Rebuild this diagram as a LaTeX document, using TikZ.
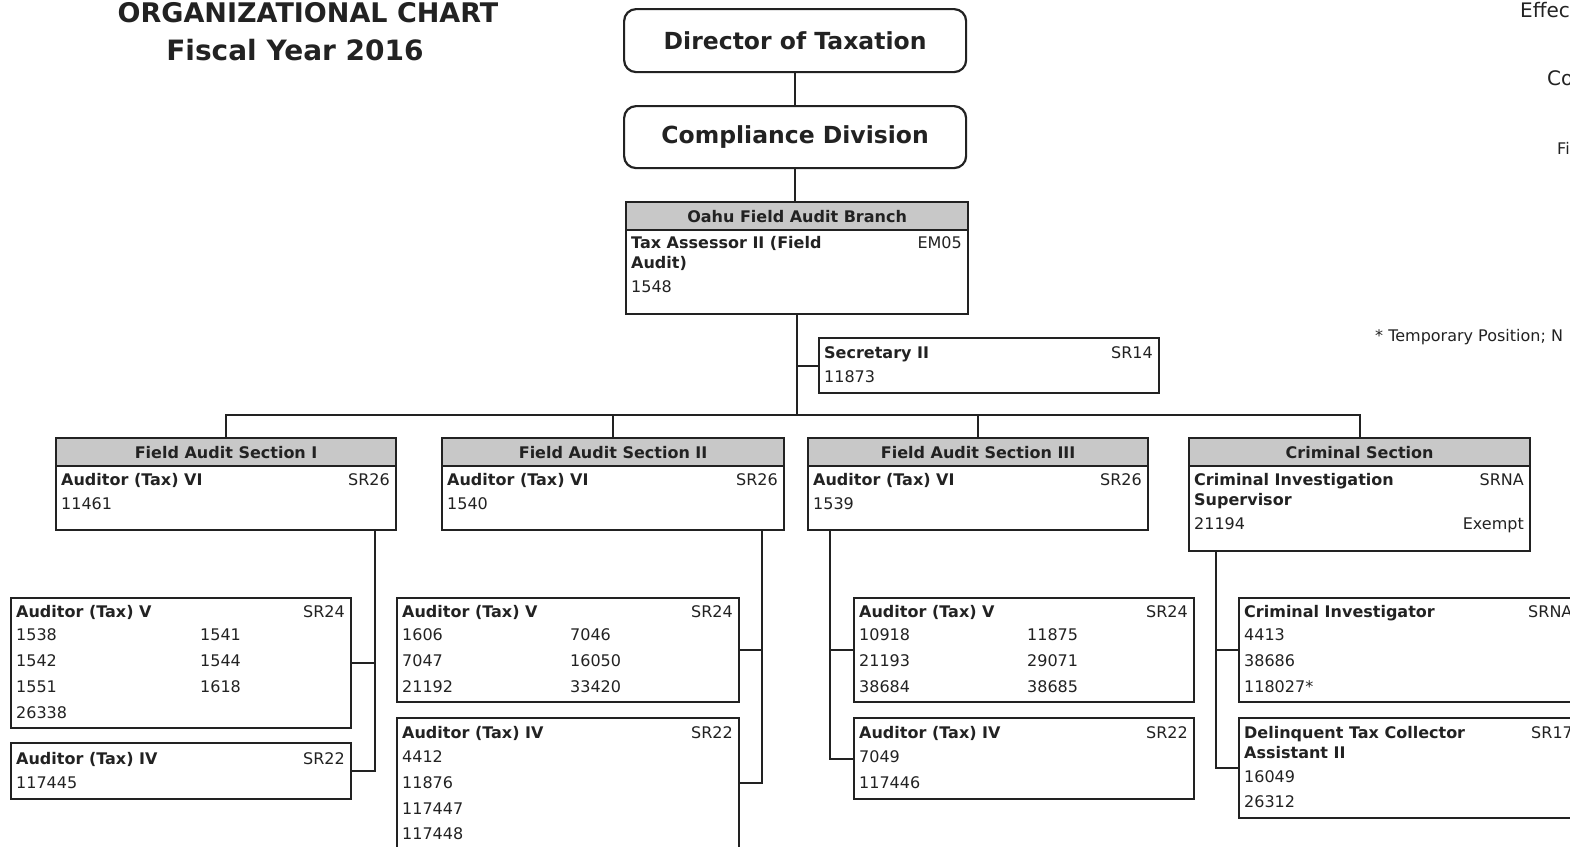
\documentclass[tikz,border=0pt]{standalone}
\usepackage{fontspec}
\setmainfont{DejaVu Sans}
\usetikzlibrary{calc}
\definecolor{ink}{HTML}{222222}
\definecolor{hdr}{HTML}{C8C8C8}
\begin{document}
\begin{tikzpicture}[x=1bp,y=-1bp,
  box/.style={draw=ink, line width=2.2bp, rectangle, anchor=north west, inner sep=0pt},
  hbox/.style={box, fill=hdr, minimum height=28bp, font=\fontsize{16bp}{19bp}\selectfont\bfseries, text=ink},
  rbox/.style={box, rounded corners=12bp, font=\fontsize{23.5bp}{28bp}\selectfont\bfseries, text=ink},
  t/.style={anchor=base west, inner sep=0pt, text=ink, font=\fontsize{16bp}{19bp}\selectfont},
  tb/.style={t, font=\fontsize{16bp}{19bp}\selectfont\bfseries},
  tr/.style={t, anchor=base east},
  conn/.style={draw=ink, line width=2.2bp},
  ttl/.style={anchor=base, inner sep=0pt, text=ink, font=\fontsize{27bp}{32bp}\selectfont\bfseries},
  side/.style={anchor=base west, inner sep=0pt, text=ink},
]
\useasboundingbox (0,0) rectangle (1570,846);
\clip (0,0) rectangle (1570,846);

% title
\node[ttl] (title1) at (308,22) {ORGANIZATIONAL CHART};
\node[ttl, font=\fontsize{28bp}{32bp}\selectfont\bfseries] (title2) at (295,60) {Fiscal Year 2016};

% side texts
\node[side, font=\fontsize{20bp}{24bp}\selectfont] (eff) at (1520,17) {Effec};
\node[side, font=\fontsize{20bp}{24bp}\selectfont] (co) at (1547,85) {Co};
\node[side, font=\fontsize{16bp}{19bp}\selectfont] (fi) at (1557,154) {Fi};
\node[side, font=\fontsize{16bp}{19bp}\selectfont] (temp) at (1375,341) {* Temporary Position; N};

% top boxes
\node[rbox, minimum width=342bp, minimum height=63bp] (dir) at (623,8) {Director of Taxation};
\node[rbox, minimum width=342bp, minimum height=62bp] (comp) at (623,105) {Compliance Division};

% Oahu branch
\node[box, minimum width=342bp, minimum height=112bp] (oahu) at (625,201) {};
\node[hbox, minimum width=342bp] (oahuh) at (625,201) {Oahu Field Audit Branch};
\node[tb] (o1) at (631,248) {Tax Assessor II (Field};
\node[tb] (o2) at (631,268) {Audit)};
\node[t] (o3) at (631,292) {1548};
\node[tr] (o4) at (962,248) {EM05};

% Secretary
\node[box, minimum width=340bp, minimum height=55bp] (secy) at (818,337) {};
\node[tb] (sy1) at (824,358) {Secretary II};
\node[t] (sy2) at (824,382) {11873};
\node[tr] (sy3) at (1153,358) {SR14};

% Sections
\node[box, minimum width=340bp, minimum height=92bp] (sec1) at (55,437) {};
\node[hbox, minimum width=340bp] (sec1h) at (55,437) {Field Audit Section I};
\node[tb] (s11) at (61,485) {Auditor (Tax) VI};
\node[t] (s12) at (61,509) {11461};
\node[tr] (s13) at (390,485) {SR26};

\node[box, minimum width=342bp, minimum height=92bp] (sec2) at (441,437) {};
\node[hbox, minimum width=342bp] (sec2h) at (441,437) {Field Audit Section II};
\node[tb] (s21) at (447,485) {Auditor (Tax) VI};
\node[t] (s22) at (447,509) {1540};
\node[tr] (s23) at (778,485) {SR26};

\node[box, minimum width=340bp, minimum height=92bp] (sec3) at (807,437) {};
\node[hbox, minimum width=340bp] (sec3h) at (807,437) {Field Audit Section III};
\node[tb] (s31) at (813,485) {Auditor (Tax) VI};
\node[t] (s32) at (813,509) {1539};
\node[tr] (s33) at (1142,485) {SR26};

\node[box, minimum width=341bp, minimum height=113bp] (crim) at (1188,437) {};
\node[hbox, minimum width=341bp] (crimh) at (1188,437) {Criminal Section};
\node[tb] (c1) at (1194,485) {Criminal Investigation};
\node[tb] (c2) at (1194,505) {Supervisor};
\node[t] (c3) at (1194,529) {21194};
\node[tr] (c4) at (1524,485) {SRNA};
\node[tr] (c5) at (1524,529) {Exempt};

% Section I units
\node[box, minimum width=340bp, minimum height=130bp] (a1v) at (10,597) {};
\node[tb] (a1v0) at (16,617) {Auditor (Tax) V};
\node[tr] (a1vg) at (345,617) {SR24};
\node[t] (a1v1) at (16,640) {1538};
\node[t] (a1v2) at (200,640) {1541};
\node[t] (a1v3) at (16,666) {1542};
\node[t] (a1v4) at (200,666) {1544};
\node[t] (a1v5) at (16,692) {1551};
\node[t] (a1v6) at (200,692) {1618};
\node[t] (a1v7) at (16,718) {26338};

\node[box, minimum width=340bp, minimum height=56bp] (a1iv) at (10,742) {};
\node[tb] (a1iv0) at (16,764) {Auditor (Tax) IV};
\node[tr] (a1ivg) at (345,764) {SR22};
\node[t] (a1iv1) at (16,788) {117445};

% Section II units
\node[box, minimum width=342bp, minimum height=104bp] (a2v) at (396,597) {};
\node[tb] (a2v0) at (402,617) {Auditor (Tax) V};
\node[tr] (a2vg) at (733,617) {SR24};
\node[t] (a2v1) at (402,640) {1606};
\node[t] (a2v2) at (570,640) {7046};
\node[t] (a2v3) at (402,666) {7047};
\node[t] (a2v4) at (570,666) {16050};
\node[t] (a2v5) at (402,692) {21192};
\node[t] (a2v6) at (570,692) {33420};

\node[box, minimum width=342bp, minimum height=160bp] (a2iv) at (396,717) {};
\node[tb] (a2iv0) at (402,738) {Auditor (Tax) IV};
\node[tr] (a2ivg) at (733,738) {SR22};
\node[t] (a2iv1) at (402,762) {4412};
\node[t] (a2iv2) at (402,788) {11876};
\node[t] (a2iv3) at (402,814) {117447};
\node[t] (a2iv4) at (402,839) {117448};

% Section III units
\node[box, minimum width=340bp, minimum height=104bp] (a3v) at (853,597) {};
\node[tb] (a3v0) at (859,617) {Auditor (Tax) V};
\node[tr] (a3vg) at (1188,617) {SR24};
\node[t] (a3v1) at (859,640) {10918};
\node[t] (a3v2) at (1027,640) {11875};
\node[t] (a3v3) at (859,666) {21193};
\node[t] (a3v4) at (1027,666) {29071};
\node[t] (a3v5) at (859,692) {38684};
\node[t] (a3v6) at (1027,692) {38685};

\node[box, minimum width=340bp, minimum height=81bp] (a3iv) at (853,717) {};
\node[tb] (a3iv0) at (859,738) {Auditor (Tax) IV};
\node[tr] (a3ivg) at (1188,738) {SR22};
\node[t] (a3iv1) at (859,762) {7049};
\node[t] (a3iv2) at (859,788) {117446};

% Criminal units
\node[box, minimum width=400bp, minimum height=104bp] (ci) at (1238,597) {};
\node[tb] (ci0) at (1244,617) {Criminal Investigator};
\node[t] (cig) at (1528,617) {SRNA};
\node[t] (ci1) at (1244,640) {4413};
\node[t] (ci2) at (1244,666) {38686};
\node[t] (ci3) at (1244,692) {118027*};

\node[box, minimum width=400bp, minimum height=100bp] (dtc) at (1238,717) {};
\node[tb] (dtc0) at (1244,738) {Delinquent Tax Collector};
\node[tb] (dtc0b) at (1244,758) {Assistant II};
\node[t] (dtcg) at (1531,738) {SR17};
\node[t] (dtc1) at (1244,782) {16049};
\node[t] (dtc2) at (1244,807) {26312};

% connectors
\coordinate (bus) at ($(oahu.south)+(0,100)$);
\draw[conn] (dir.south) -- (comp.north);
\draw[conn] (comp.south) -- (oahuh.north -| comp.south);
\draw[conn] (oahu.south) -- (bus);
\draw[conn] (secy.west) -- (secy.west -| oahu.south);
\draw[conn] (sec1.north) |- (bus) -| (crim.north);
\draw[conn] (sec2.north) -- (sec2.north |- bus);
\draw[conn] (sec3.north) -- (sec3.north |- bus);

\coordinate (v1) at ($(sec1.south east)+(-22,0)$);
\draw[conn] (v1) |- (a1iv.east);
\draw[conn] (a1v.east) -- (a1v.east -| v1);

\coordinate (v2) at ($(sec2.south east)+(-23,0)$);
\coordinate (a2ivc) at ($(a2iv.north east)+(0,66)$);
\draw[conn] (v2) |- (a2ivc);
\draw[conn] (a2v.east) -- (a2v.east -| v2);

\coordinate (v3) at ($(sec3.south west)+(23,0)$);
\draw[conn] (v3) |- (a3iv.west);
\draw[conn] (a3v.west) -- (a3v.west -| v3);

\coordinate (v4) at ($(crim.south west)+(28,0)$);
\draw[conn] (v4) |- (dtc.west);
\draw[conn] (ci.west) -- (ci.west -| v4);
\end{tikzpicture}
\end{document}
